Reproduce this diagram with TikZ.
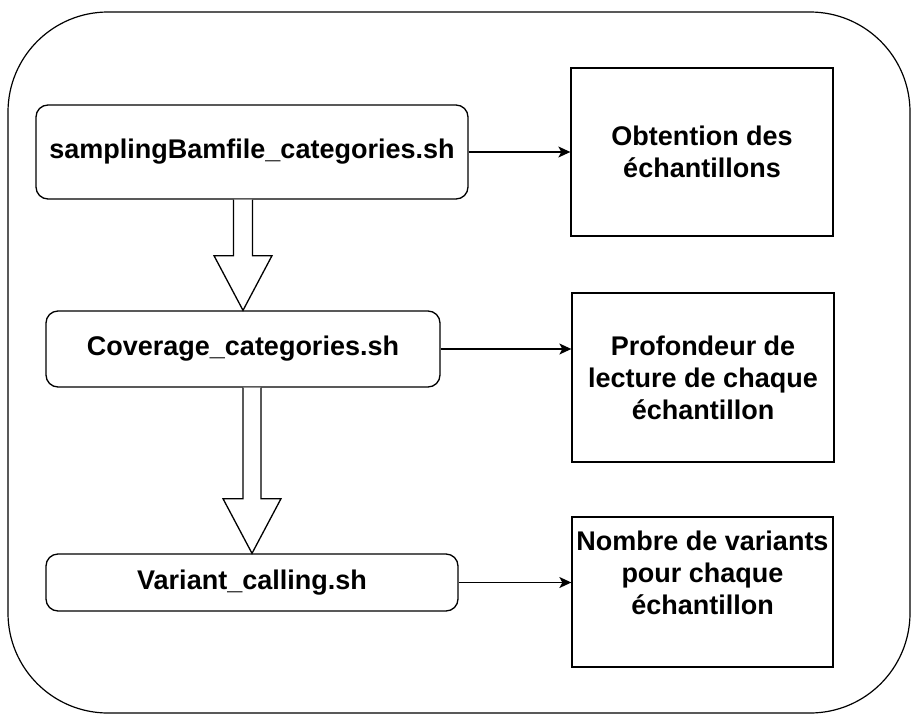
\documentclass[tikz,border=0pt]{standalone}
\usepackage{fontspec}
\setmainfont{Liberation Sans}
\usetikzlibrary{arrows.meta,calc}
\tikzset{
  base/.style={draw=black, line width=1.3pt, align=center, inner sep=0pt,
    font=\fontsize{27}{32}\selectfont\bfseries},
  script/.style={base, rounded corners=12pt},
  result/.style={base},
  frame/.style={draw=black, line width=1.2pt, rounded corners=100pt, inner sep=0pt},
  flow/.style={line width=1.3pt, -{Stealth[length=12pt,width=11pt,inset=3pt]}},
  blk/.style={draw=black, line width=1.3pt, fill=white, line join=miter},
  txt/.style={align=center, inner sep=0pt, font=\fontsize{27}{32}\selectfont\bfseries}
}
\begin{document}
\begin{tikzpicture}[x=1pt,y=-1pt]
\useasboundingbox (0,0) rectangle (915,720);
\node[frame, minimum width=902pt, minimum height=701pt] (outer) at (459,362.5) {};

\node[script, minimum width=432pt, minimum height=94pt] (b1) at (252,152) {samplingBamfile\_categories.sh};
\node[script, minimum width=394pt, minimum height=76pt] (b2) at (243,349) {Coverage\_categories.sh};
\node[script, minimum width=412pt, minimum height=57pt] (b3) at (252,582.5) {Variant\_calling.sh};

\node[result, minimum width=262pt, minimum height=168pt] (r1) at (702,152) {Obtention des\\échantillons};
\node[result, minimum width=262pt, minimum height=169pt] (r2) at (703,377.5) {Profondeur de\\lecture de chaque\\échantillon};
\node[result, minimum width=261pt, minimum height=150pt] (r3) at (702.5,592) {};
\node[txt] (r3t) at ([yshift=19pt]r3.center) {Nombre de variants\\pour chaque\\échantillon};

\draw[flow] (b1.east) -- (r1.west |- b1.east);
\draw[flow] (b2.east) -- (r2.west |- b2.east);
\draw[flow] (b3.east) -- (r3.west |- b3.east);

% block arrow 1
\coordinate (a1) at ([xshift=-9pt]b1.south);
\coordinate (a1tip) at (a1 |- b2.north);
\draw[blk] ([xshift=-9.5pt]a1) -- ([xshift=-9.5pt,yshift=-56pt]a1) -- ([xshift=-29pt,yshift=-56pt]a1)
  -- (a1tip) -- ([xshift=29pt,yshift=-56pt]a1) -- ([xshift=9.5pt,yshift=-56pt]a1) -- ([xshift=9.5pt]a1);

% block arrow 2
\coordinate (a2) at ([xshift=9pt]b2.south);
\coordinate (a2tip) at (a2 |- b3.north);
\draw[blk] ([xshift=-9pt]a2) -- ([xshift=-9pt,yshift=-111pt]a2) -- ([xshift=-29pt,yshift=-111pt]a2)
  -- (a2tip) -- ([xshift=29pt,yshift=-111pt]a2) -- ([xshift=9pt,yshift=-111pt]a2) -- ([xshift=9pt]a2);
\end{tikzpicture}
\end{document}
